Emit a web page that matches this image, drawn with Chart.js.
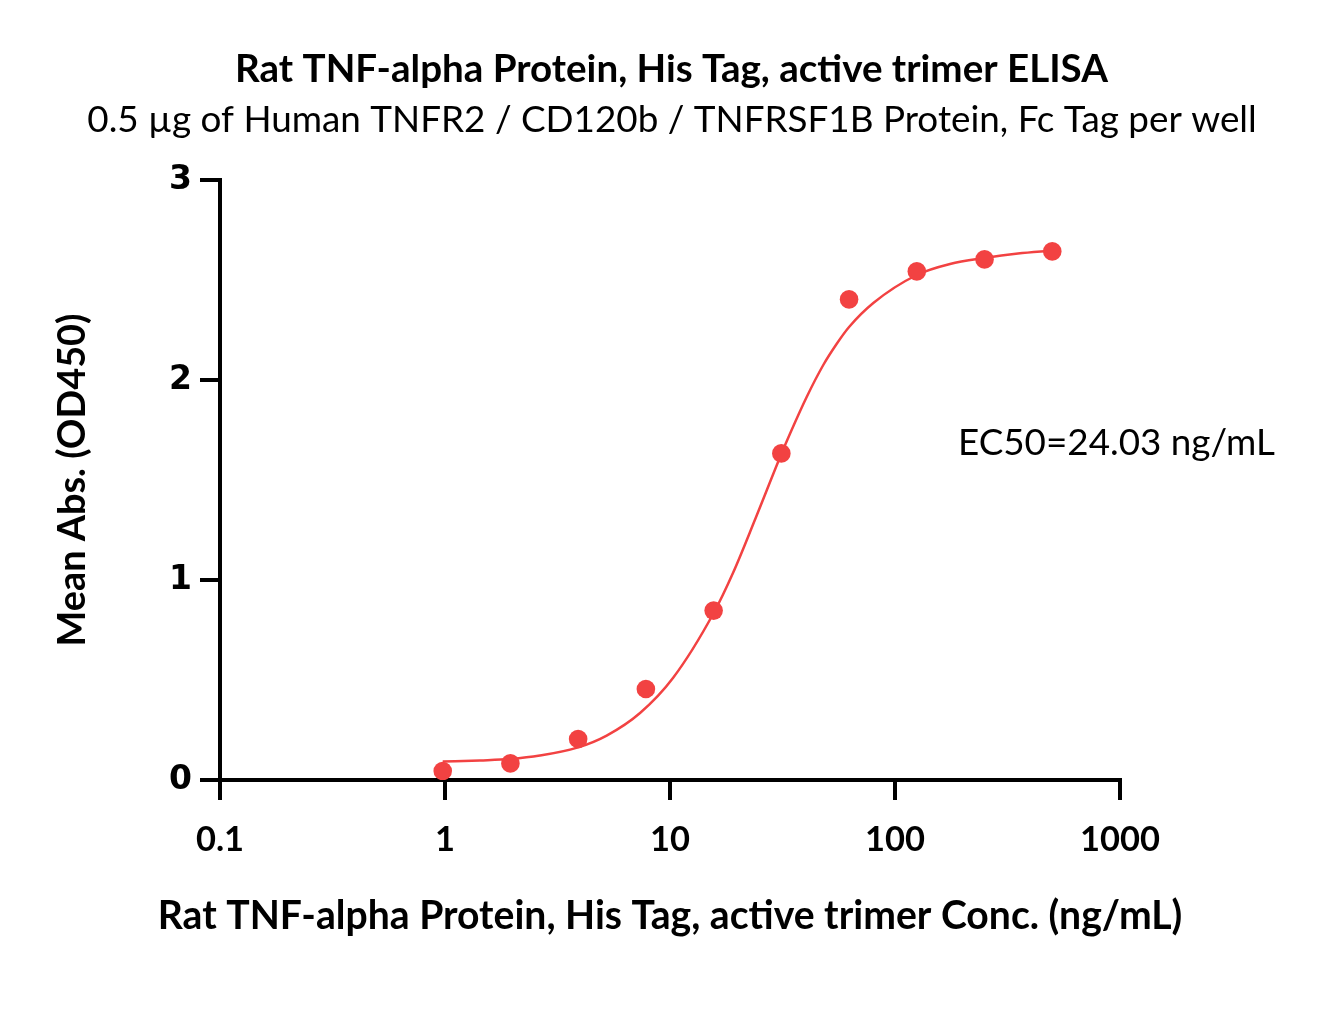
<!DOCTYPE html>
<html>
<head>
<meta charset="utf-8">
<script src="https://cdn.jsdelivr.net/npm/chart.js@4.4.0/dist/chart.umd.min.js"></script>
<style>
html,body{margin:0;padding:0;background:#fff;}
#wrap{width:1318px;height:1035px;}
</style>
</head>
<body>
<div id="wrap"><canvas id="c" width="1318" height="1035"></canvas></div>
<script>
// ---- data ----
const chartTitle = 'Rat TNF-alpha Protein, His Tag, active trimer ELISA';
const chartSubtitle = '0.5 \u00b5g of Human TNFR2 / CD120b / TNFRSF1B Protein, Fc Tag per well';
const xAxisTitle = 'Rat TNF-alpha Protein, His Tag, active trimer Conc. (ng/mL)';
const yAxisTitle = 'Mean Abs. (OD450)';
const ec50Label = 'EC50=24.03 ng/mL';
const xTickValues = [0.1, 1, 10, 100, 1000];
const xTickLabels = ['0.1', '1', '10', '100', '1000'];
const yTickLabels = ['0', '1', '2', '3'];
const concentrations = [0.977, 1.953, 3.906, 7.813, 15.63, 31.25, 62.5, 125, 250, 500];
const meanAbs = [0.045, 0.083, 0.205, 0.455, 0.847, 1.633, 2.403, 2.543, 2.603, 2.643];
const fitConc = [0.977, 1.43, 1.953, 2.64, 3.906, 5.23, 7.36, 10.31, 15.63, 19.05, 24.03, 31.25, 34.1, 40.5, 48.0, 55.0, 62.5, 80.1, 125, 175.6, 250, 352, 500];
const fitAbs  = [0.092, 0.098, 0.105, 0.122, 0.163, 0.222, 0.335, 0.51, 0.835, 1.035, 1.31, 1.63, 1.73, 1.915, 2.075, 2.18, 2.265, 2.385, 2.525, 2.58, 2.61, 2.632, 2.647];

// ---- styling ----
const RED = 'rgb(242,66,66)';
const FAM = 'Lato, "Open Sans", sans-serif';
const mctx = document.createElement('canvas').getContext('2d');
function fitSize(text, weight, family, target) {
  mctx.font = weight + ' 100px ' + family;
  return 100 * target / mctx.measureText(text).width;
}
const titleSize = fitSize(chartTitle, 'bold', FAM, 873);
const subSize = fitSize(chartSubtitle, 'normal', FAM, 1170);
const xTitleSize = fitSize(xAxisTitle, 'bold', FAM, 1025);
const yTitleSize = fitSize(yAxisTitle, 'bold', FAM, 333);
const ecSize = fitSize(ec50Label, 'normal', FAM, 317);
const xTickSize = fitSize('1000', 'bold', FAM, 80);

const textPlugin = {
  id: 'texts',
  afterDraw(chart) {
    const ctx = chart.ctx;
    ctx.save();
    ctx.fillStyle = '#000';
    ctx.textAlign = 'center';
    ctx.textBaseline = 'middle';
    ctx.font = 'bold ' + titleSize + 'px ' + FAM;
    ctx.fillText(chartTitle, 671.5, 70);
    ctx.font = 'normal ' + subSize + 'px ' + FAM;
    ctx.fillText(chartSubtitle, 672, 120);
    const xs = chart.scales.x, ys = chart.scales.y;
    ctx.font = 'bold ' + xTitleSize + 'px ' + FAM;
    ctx.fillText(xAxisTitle, (xs.left + xs.right) / 2, 916);
    ctx.textAlign = 'left';
    ctx.font = 'normal ' + ecSize + 'px ' + FAM;
    ctx.fillText(ec50Label, 958, ys.getPixelForValue(1.685));
    ctx.restore();
  }
};

const chart = new Chart(document.getElementById('c'), {
  type: 'scatter',
  data: {
    datasets: [
      {
        label: 'Fit',
        data: fitConc.map((c, i) => ({x: c, y: fitAbs[i]})),
        showLine: true,
        borderColor: RED,
        borderWidth: 2.5,
        pointRadius: 0,
        cubicInterpolationMode: 'monotone',
        order: 2
      },
      {
        label: 'Mean Abs.',
        data: concentrations.map((c, i) => ({x: c, y: meanAbs[i]})),
        showLine: false,
        backgroundColor: RED,
        borderColor: RED,
        pointRadius: 9.3,
        pointBorderWidth: 0,
        order: 1
      }
    ]
  },
  options: {
    responsive: false,
    animation: false,
    layout: { padding: { left: 0, top: 180, right: 198, bottom: 0 } },
    plugins: { legend: { display: false }, tooltip: { enabled: false }, title: { display: false } },
    scales: {
      x: {
        type: 'logarithmic',
        min: 0.1,
        max: 1000,
        afterBuildTicks: (s) => { s.ticks = xTickValues.map(v => ({value: v, major: true})); },
        afterFit: (s) => { s.height = 255; },
        border: { display: true, color: '#000', width: 4 },
        grid: { drawOnChartArea: false, drawTicks: true, tickLength: 20, tickWidth: 4, tickColor: '#000', lineWidth: 4, color: '#000' },
        ticks: {
          color: '#000',
          padding: 19,
          maxRotation: 0,
          autoSkip: false,
          font: { family: FAM, weight: 'bold', size: xTickSize },
          callback: (v, i) => xTickLabels[i]
        },
        title: { display: false, text: xAxisTitle }
      },
      y: {
        type: 'linear',
        min: 0,
        max: 3,
        afterFit: (s) => { s.width = 220; },
        border: { display: true, color: '#000', width: 4 },
        grid: { drawOnChartArea: false, drawTicks: true, tickLength: 20, tickWidth: 4, tickColor: '#000', lineWidth: 4, color: '#000' },
        ticks: {
          color: '#000',
          padding: 8,
          stepSize: 1,
          font: { family: '"DejaVu Sans", Verdana, sans-serif', weight: 'bold', size: 33 },
          callback: (v) => yTickLabels[v]
        },
        title: {
          display: true,
          text: yAxisTitle,
          color: '#000',
          font: { family: FAM, weight: 'bold', size: yTitleSize, lineHeight: 1.2 },
          padding: { top: 73 - yTitleSize * 0.6, bottom: 0 }
        }
      }
    }
  },
  plugins: [textPlugin]
});
</script>
</body>
</html>
